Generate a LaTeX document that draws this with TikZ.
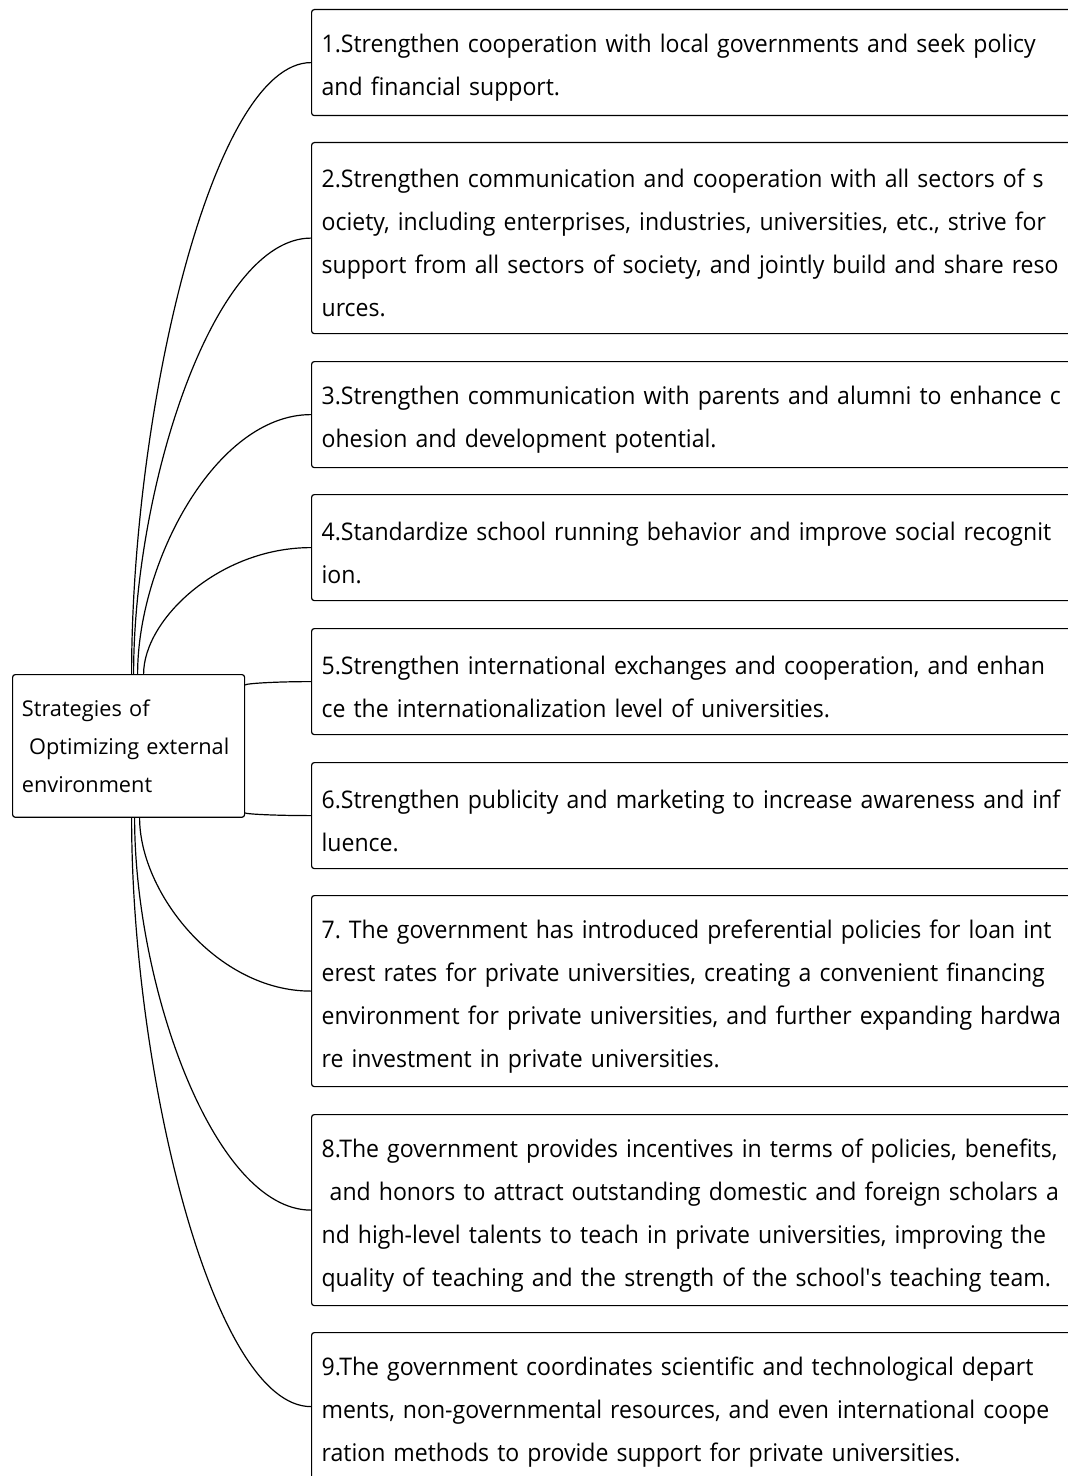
\documentclass[tikz,border=0pt]{standalone}
\usepackage{fontspec}
\setmainfont{Open Sans}
\newfontfamily\itemfont[FakeStretch=0.95]{Open Sans}
\usetikzlibrary{calc}
\frenchspacing

\tikzset{
  strategy/.style={draw, rounded corners=2pt, line width=0.9pt, anchor=north west,
    text width=800pt, inner xsep=7.5pt, inner ysep=0pt, align=left,
    font=\itemfont\fontsize{18.2}{32.25}\selectfont,
    execute at begin node={\rule{0pt}{21.5pt}}},
  hub/.style={draw, rounded corners=2pt, line width=0.9pt, anchor=north west,
    minimum width=174pt, minimum height=107pt, text width=160pt, inner xsep=7pt,
    align=left, font=\fontsize{16.3}{28.5}\selectfont},
  link/.style={line width=0.9pt}
}
% curve from a start point to the left side of a box
\newcommand{\branch}[2]{\draw[link] (#1) .. controls ($(#1)!0.43!(#1|-#2)$) and ($(#1|-#2)!0.45!(#2)$) .. (#2);}

\begin{document}
\begin{tikzpicture}[x=0.75pt, y=-0.75pt]
  \useasboundingbox (0,0) rectangle (1067,1476);

  % centre
  \node[hub] (root) at (12,674) {Strategies of\\ \ Optimizing external\\environment};

  % strategies
  \node[strategy, minimum height=79.5pt] (s1) at (311,9) {1.Strengthen cooperation with local governments and seek policy\\and financial support.};
  \node[strategy, minimum height=143.25pt] (s2) at (311,142) {2.Strengthen communication and cooperation with all sectors of s\\ociety, including enterprises, industries, universities, etc., strive for\\support from all sectors of society, and jointly build and share reso\\urces.};
  \node[strategy, minimum height=79.5pt] (s3) at (311,361) {3.Strengthen communication with parents and alumni to enhance c\\ohesion and development potential.};
  \node[strategy, minimum height=79.5pt] (s4) at (311,494) {4.Standardize school running behavior and improve social recognit\\ion.};
  \node[strategy, minimum height=79.5pt] (s5) at (311,628) {5.Strengthen international exchanges and cooperation, and enhan\\ce the internationalization level of universities.};
  \node[strategy, minimum height=79.5pt] (s6) at (311,762) {6.Strengthen publicity and marketing to increase awareness and inf\\luence.};
  \node[strategy, minimum height=143.25pt] (s7) at (311,895) {7. The government has introduced preferential policies for loan int\\erest rates for private universities, creating a convenient financing\\environment for private universities, and further expanding hardwa\\re investment in private universities.};
  \node[strategy, minimum height=143.25pt] (s8) at (311,1114) {8.The government provides incentives in terms of policies, benefits,\\\ and honors to attract outstanding domestic and foreign scholars a\\nd high-level talents to teach in private universities, improving the\\quality of teaching and the strength of the school\textquotesingle s teaching team.};
  \node[strategy, minimum height=111pt] (s9) at (311,1332) {9.The government coordinates scientific and technological depart\\ments, non-governmental resources, and even international coope\\ration methods to provide support for private universities.};

  % start points on the centre box
  \coordinate (o1) at ($(root.north)+(3,0)$);
  \coordinate (o2) at ($(root.north)+(5,0)$);
  \coordinate (o3) at ($(root.north)+(9,0)$);
  \coordinate (o4) at ($(root.north)+(15,0)$);
  \coordinate (o5) at ($(root.north east)+(0,11)$);
  \coordinate (o6) at ($(root.south east)+(0,-5)$);
  \coordinate (o7) at ($(root.south)+(11,0)$);
  \coordinate (o8) at ($(root.south)+(6,0)$);
  \coordinate (o9) at ($(root.south)+(3,0)$);

  \foreach \i in {1,...,9} {\branch{o\i}{s\i.west}}
\end{tikzpicture}
\end{document}
